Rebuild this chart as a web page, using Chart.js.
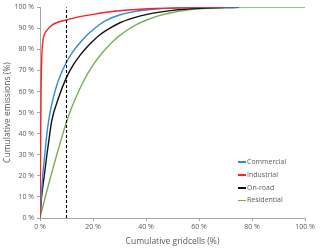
<!DOCTYPE html>
<html>
<head>
<meta charset="utf-8">
<script src="https://cdn.jsdelivr.net/npm/chart.js@4/dist/chart.umd.min.js"></script>
<style>
  html, body { margin: 0; padding: 0; background: #fff; }
  #wrap { position: relative; width: 320px; height: 249px; }
  #legend { position: absolute; left: 238px; top: 156px; font-family: "Open Sans", sans-serif; font-size: 7px; color: #595959; }
  .item { position: relative; height: 12.8px; line-height: 12px; white-space: nowrap; }
  .swatch { display: inline-block; width: 8px; height: 1.6px; vertical-align: middle; margin-right: 1px; }
</style>
</head>
<body>
<div id="wrap">
  <canvas id="c" width="320" height="249"></canvas>
  <div id="legend"></div>
</div>
<script>
// Cumulative gridcells (%) and cumulative emissions (%) for each sector
const commercialX = [0, 0.5, 1, 1.8, 2.6, 3.5, 5, 7, 10, 12.5, 15, 17.5, 20, 22.5, 25, 30, 35, 40, 50, 60, 75];
const commercialY = [0, 10, 20, 30, 40, 48, 57, 65.5, 74, 79, 83, 86.5, 89.3, 91.8, 93.8, 96.3, 97.8, 98.7, 99.5, 99.9, 100];

const industrialX = [0, 0.2, 0.4, 0.7, 1, 1.5, 2.3, 4, 6, 10, 15, 20, 30, 45, 60, 70];
const industrialY = [0, 30, 60, 77, 83, 86.5, 88.5, 91, 92.5, 94, 95.5, 96.6, 98.3, 99.5, 99.9, 100];

const onroadX = [0, 0.6, 1.6, 2.6, 3.7, 4.4, 7, 10, 12.5, 15, 17.5, 20, 22.5, 25, 30, 35, 40, 50, 60, 75];
const onroadY = [0, 10, 20, 30, 40, 46, 57, 66.7, 72.5, 77, 80.8, 84, 86.8, 89, 92.5, 94.8, 96.5, 98.5, 99.5, 100];

const residentialX = [0, 2, 4, 6, 8, 10, 12, 14, 16, 18, 20, 22, 25, 28, 30, 33, 36, 40, 45, 50, 55, 60, 70, 80, 100];
const residentialY = [0, 10, 19.5, 28.5, 37.3, 45.5, 52.5, 58.5, 63.8, 68.5, 72.5, 76, 80.5, 84.3, 86.5, 89.2, 91.5, 93.8, 96, 97.5, 98.5, 99.2, 99.8, 100, 100];

const thresholdX = [10, 10];
const thresholdY = [0, 100];

const seriesLabels = ["Commercial", "Industrial", "On-road", "Residential"];
const xTickValues = [0, 20, 40, 60, 80, 100];
const yTickValues = [0, 10, 20, 30, 40, 50, 60, 70, 80, 90, 100];

const colors = { "Commercial": "#2E8BD6", "Industrial": "#FF1F1F", "On-road": "#111111", "Residential": "#74B04C" };

function pts(xs, ys) { return xs.map((x, i) => ({ x: x, y: ys[i] })); }

const lineBase = { fill: false, pointRadius: 0, borderWidth: 1.4, cubicInterpolationMode: 'monotone' };

const datasets = [
  Object.assign({}, lineBase, { label: '10%', data: pts(thresholdX, thresholdY), borderColor: '#000', borderDash: [3, 2], borderWidth: 1.1, cubicInterpolationMode: 'default', tension: 0 }),
  Object.assign({}, lineBase, { label: seriesLabels[1], data: pts(industrialX, industrialY), borderColor: colors["Industrial"] }),
  Object.assign({}, lineBase, { label: seriesLabels[0], data: pts(commercialX, commercialY), borderColor: colors["Commercial"] }),
  Object.assign({}, lineBase, { label: seriesLabels[2], data: pts(onroadX, onroadY), borderColor: colors["On-road"] }),
  Object.assign({}, lineBase, { label: seriesLabels[3], data: pts(residentialX, residentialY), borderColor: colors["Residential"] })
];

const font = { family: '"Open Sans", sans-serif', size: 7 };
const axisColor = '#A6A6A6';
const textColor = '#595959';

new Chart(document.getElementById('c'), {
  type: 'line',
  data: { datasets: datasets },
  options: {
    responsive: false,
    animation: false,
    layout: { padding: { left: 0, right: 15, top: 6, bottom: 0 } },
    plugins: { legend: { display: false }, tooltip: { enabled: false } },
    scales: {
      x: {
        type: 'linear', min: 0, max: 100,
        afterBuildTicks: s => { s.ticks = xTickValues.map(v => ({ value: v })); },
        afterFit: s => { s.height = 31; },
        ticks: { callback: v => v + ' %', font: font, color: textColor, padding: 2, maxRotation: 0 },
        grid: { display: true, drawOnChartArea: false, drawTicks: true, tickLength: 3, color: axisColor },
        border: { color: axisColor, width: 1 },
        title: { display: true, text: 'Cumulative gridcells (%)', font: { family: '"Open Sans", sans-serif', size: 8.5 }, color: textColor, padding: { top: 0, bottom: 2 } }
      },
      y: {
        type: 'linear', min: 0, max: 100,
        afterBuildTicks: s => { s.ticks = yTickValues.map(v => ({ value: v })); },
        afterFit: s => { s.width = 40; },
        ticks: { callback: v => v + ' %', font: font, color: textColor, padding: 3 },
        grid: { display: true, drawOnChartArea: false, drawTicks: true, tickLength: 3, color: axisColor },
        border: { color: axisColor, width: 1 },
        title: { display: true, text: 'Cumulative emissions (%)', font: { family: '"Open Sans", sans-serif', size: 8.5 }, color: textColor, padding: { top: 2, bottom: 0 } }
      }
    }
  }
});

const legend = document.getElementById('legend');
seriesLabels.forEach(l => {
  const d = document.createElement('div');
  d.className = 'item';
  const s = document.createElement('span');
  s.className = 'swatch';
  s.style.background = colors[l];
  d.appendChild(s);
  d.appendChild(document.createTextNode(l));
  legend.appendChild(d);
});
</script>
</body>
</html>
